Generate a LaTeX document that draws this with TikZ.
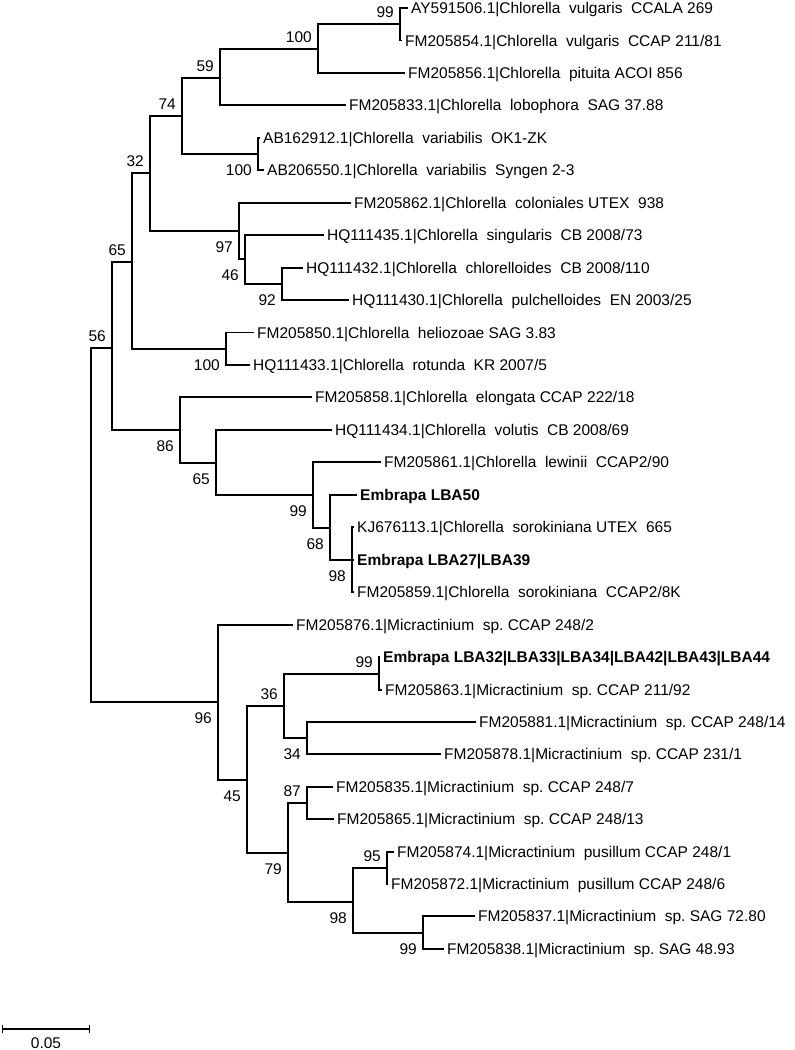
\documentclass[tikz,border=0pt]{standalone}
\usepackage{fontspec}
\setmainfont{Liberation Sans}
\usetikzlibrary{arrows.meta}
\frenchspacing
\tikzset{
  branch/.style={line width=1.3pt, draw=black, line cap=rect},
  leaf/.style={
    anchor=west, inner sep=0pt, inner xsep=4pt,
    text height=11.1pt, text depth=0pt
  },
  strain/.style={leaf, font=\fontsize{15.5}{18}\selectfont\bfseries},
  bootup/.style={anchor=base east, inner sep=0pt, xshift=-6pt, yshift=7pt},
  bootdown/.style={anchor=base east, inner sep=0pt, xshift=-6pt, yshift=-21.5pt},
}

\begin{document}
\begin{tikzpicture}[x=1pt, y=-1pt, font=\fontsize{15.5}{18}\selectfont]
  \useasboundingbox (0,0) rectangle (795,1050);

  % internal nodes
  \coordinate (root) at (91,525);
  \coordinate (n56)  at (112,348);
  \coordinate (n65a) at (132,262);
  \coordinate (n32)  at (150,173);
  \coordinate (n74)  at (182,116);
  \coordinate (n59)  at (220,78);
  \coordinate (nPit) at (318,49);
  \coordinate (nVul) at (400,24);
  \coordinate (nVar) at (258,154);
  \coordinate (n97)  at (239,231);
  \coordinate (n46)  at (245,259);
  \coordinate (n92)  at (282,284);
  \coordinate (nHel) at (226,349);
  \coordinate (n86)  at (180,430);
  \coordinate (n65b) at (216,463);
  \coordinate (n99a) at (313,495);
  \coordinate (n68)  at (330,528);
  \coordinate (n98a) at (352,560);
  \coordinate (n96)  at (218,702);
  \coordinate (n45)  at (247,780);
  \coordinate (n36)  at (284,706);
  \coordinate (nLba) at (379,674);
  \coordinate (n34)  at (307,738);
  \coordinate (n79)  at (288,853);
  \coordinate (n87)  at (307,803);
  \coordinate (n98b) at (353,902);
  \coordinate (n95)  at (387,868);
  \coordinate (n99c) at (423,933);

  % leaves
  \node[leaf]   (vulgA)         at (407,8)     {AY591506.1|Chlorella~ vulgaris~ CCALA 269};
  \node[leaf]   (vulgB)         at (401,40.5)  {FM205854.1|Chlorella~ vulgaris~ CCAP 211/81};
  \node[leaf]   (pituita)       at (404,73)    {FM205856.1|Chlorella~ pituita ACOI 856};
  \node[leaf]   (lobophora)     at (345,105)   {FM205833.1|Chlorella~ lobophora~ SAG 37.88};
  \node[leaf]   (varA)          at (259,138)   {AB162912.1|Chlorella~ variabilis~ OK1-ZK};
  \node[leaf]   (varB)          at (263,170)   {AB206550.1|Chlorella~ variabilis~ Syngen 2-3};
  \node[leaf]   (coloniales)    at (350,203)   {FM205862.1|Chlorella~ coloniales UTEX~ 938};
  \node[leaf]   (singularis)    at (323,235)   {HQ111435.1|Chlorella~ singularis~ CB 2008/73};
  \node[leaf]   (chlorelloides) at (302,268)   {HQ111432.1|Chlorella~ chlorelloides~ CB 2008/110};
  \node[leaf]   (pulchelloides) at (348,300)   {HQ111430.1|Chlorella~ pulchelloides~ EN 2003/25};
  \node[leaf]   (heliozoae)     at (253,332.5) {FM205850.1|Chlorella~ heliozoae SAG 3.83};
  \node[leaf]   (rotunda)       at (249,365)   {HQ111433.1|Chlorella~ rotunda~ KR 2007/5};
  \node[leaf]   (elongata)      at (311,397)   {FM205858.1|Chlorella~ elongata CCAP 222/18};
  \node[leaf]   (volutis)       at (331,430)   {HQ111434.1|Chlorella~ volutis~ CB 2008/69};
  \node[leaf]   (lewinii)       at (380,462)   {FM205861.1|Chlorella~ lewinii~ CCAP2/90};
  \node[strain] (lba50)         at (356,495)   {Embrapa LBA50};
  \node[leaf]   (sorokA)        at (353,527)   {KJ676113.1|Chlorella~ sorokiniana UTEX~ 665};
  \node[strain] (lba27)         at (353,560)   {Embrapa LBA27|LBA39};
  \node[leaf]   (sorokB)        at (353,592)   {FM205859.1|Chlorella~ sorokiniana~ CCAP2/8K};
  \node[leaf]   (mic2482)       at (292,625)   {FM205876.1|Micractinium~ sp. CCAP 248/2};
  \node[strain] (lba32)         at (379,657)   {Embrapa LBA32|LBA33|LBA34|LBA42|LBA43|LBA44};
  \node[leaf]   (mic21192)      at (381,690)   {FM205863.1|Micractinium~ sp. CCAP 211/92};
  \node[leaf]   (mic24814)      at (475,722)   {FM205881.1|Micractinium~ sp. CCAP 248/14};
  \node[leaf]   (mic2311)       at (440,754)   {FM205878.1|Micractinium~ sp. CCAP 231/1};
  \node[leaf]   (mic2487)       at (332,787)   {FM205835.1|Micractinium~ sp. CCAP 248/7};
  \node[leaf]   (mic24813)      at (333,819)   {FM205865.1|Micractinium~ sp. CCAP 248/13};
  \node[leaf]   (pus1)          at (393,852)   {FM205874.1|Micractinium~ pusillum CCAP 248/1};
  \node[leaf]   (pus6)          at (387,884)   {FM205872.1|Micractinium~ pusillum CCAP 248/6};
  \node[leaf]   (sag7280)       at (474,916)   {FM205837.1|Micractinium~ sp. SAG 72.80};
  \node[leaf]   (sag4893)       at (443,949)   {FM205838.1|Micractinium~ sp. SAG 48.93};

  % branches
  \draw[branch] (root) |- (n56)  (root) |- (n96);
  \draw[branch] (n56)  |- (n65a) (n56)  |- (n86);
  \draw[branch] (n65a) |- (n32)  (n65a) |- (nHel);
  \draw[branch] (n32)  |- (n74)  (n32)  |- (n97);
  \draw[branch] (n74)  |- (n59)  (n74)  |- (nVar);
  \draw[branch] (n59)  |- (nPit) (n59)  |- (lobophora.west);
  \draw[branch] (nPit) |- (nVul) (nPit) |- (pituita.west);
  \draw[branch] (nVul) |- (vulgA.west) (nVul) |- (vulgB.west);
  \draw[branch] (nVar) |- (varA.west)  (nVar) |- (varB.west);
  \draw[branch] (n97)  |- (coloniales.west) (n97) |- (n46);
  \draw[branch] (n46)  |- (singularis.west) (n46) |- (n92);
  \draw[branch] (n92)  |- (chlorelloides.west) (n92) |- (pulchelloides.west);
  \draw[branch] (nHel) |- (heliozoae.west) (nHel) |- (rotunda.west);
  \draw[branch] (n86)  |- (elongata.west) (n86) |- (n65b);
  \draw[branch] (n65b) |- (volutis.west) (n65b) |- (n99a);
  \draw[branch] (n99a) |- (lewinii.west) (n99a) |- (n68);
  \draw[branch] (n68)  |- (lba50.west) (n68) |- (n98a);
  \draw[branch] (n98a) |- (sorokA.west) (n98a) |- (lba27.west) (n98a) |- (sorokB.west);
  \draw[branch] (n96)  |- (mic2482.west) (n96) |- (n45);
  \draw[branch] (n45)  |- (n36)  (n45)  |- (n79);
  \draw[branch] (n36)  |- (nLba) (n36)  |- (n34);
  \draw[branch] (nLba) |- (lba32.west) (nLba) |- (mic21192.west);
  \draw[branch] (n34)  |- (mic24814.west) (n34) |- (mic2311.west);
  \draw[branch] (n79)  |- (n87)  (n79)  |- (n98b);
  \draw[branch] (n87)  |- (mic2487.west) (n87) |- (mic24813.west);
  \draw[branch] (n98b) |- (n95)  (n98b) |- (n99c);
  \draw[branch] (n95)  |- (pus1.west) (n95) |- (pus6.west);
  \draw[branch] (n99c) |- (sag7280.west) (n99c) |- (sag4893.west);

  % bootstrap values
  \node[bootup]   (bVul)  at (nVul) {99};
  \node[bootup]   (bPit)  at (nPit) {100};
  \node[bootup]   (b59)   at (n59)  {59};
  \node[bootup]   (b74)   at (n74)  {74};
  \node[bootdown] (bVar)  at (nVar) {100};
  \node[bootup]   (b32)   at (n32)  {32};
  \node[bootdown] (b97)   at (n97)  {97};
  \node[bootdown] (b46)   at (n46)  {46};
  \node[bootdown] (b92)   at (n92)  {92};
  \node[bootup]   (b65a)  at (n65a) {65};
  \node[bootup]   (b56)   at (n56)  {56};
  \node[bootdown] (bHel)  at (nHel) {100};
  \node[bootdown] (b86)   at (n86)  {86};
  \node[bootdown] (b65b)  at (n65b) {65};
  \node[bootdown] (b99a)  at (n99a) {99};
  \node[bootdown] (b68)   at (n68)  {68};
  \node[bootdown] (b98a)  at (n98a) {98};
  \node[bootdown] (b96)   at (n96)  {96};
  \node[bootup]   (b36)   at (n36)  {36};
  \node[bootup]   (bLba)  at (nLba) {99};
  \node[bootdown] (b34)   at (n34)  {34};
  \node[bootdown] (b45)   at (n45)  {45};
  \node[bootup]   (b87)   at (n87)  {87};
  \node[bootdown] (b79)   at (n79)  {79};
  \node[bootup]   (b95)   at (n95)  {95};
  \node[bootdown] (b98b)  at (n98b) {98};
  \node[bootdown] (b99c)  at (n99c) {99};

  % scale bar
  \coordinate (barL) at (2,1029);
  \coordinate (barR) at (90,1029);
  \draw[branch, line cap=butt, {Bar[width=8pt]}-{Bar[width=8pt]}] (barL) -- (barR);
  \node (scale) at (46,1043) {0.05};
\end{tikzpicture}
\end{document}
